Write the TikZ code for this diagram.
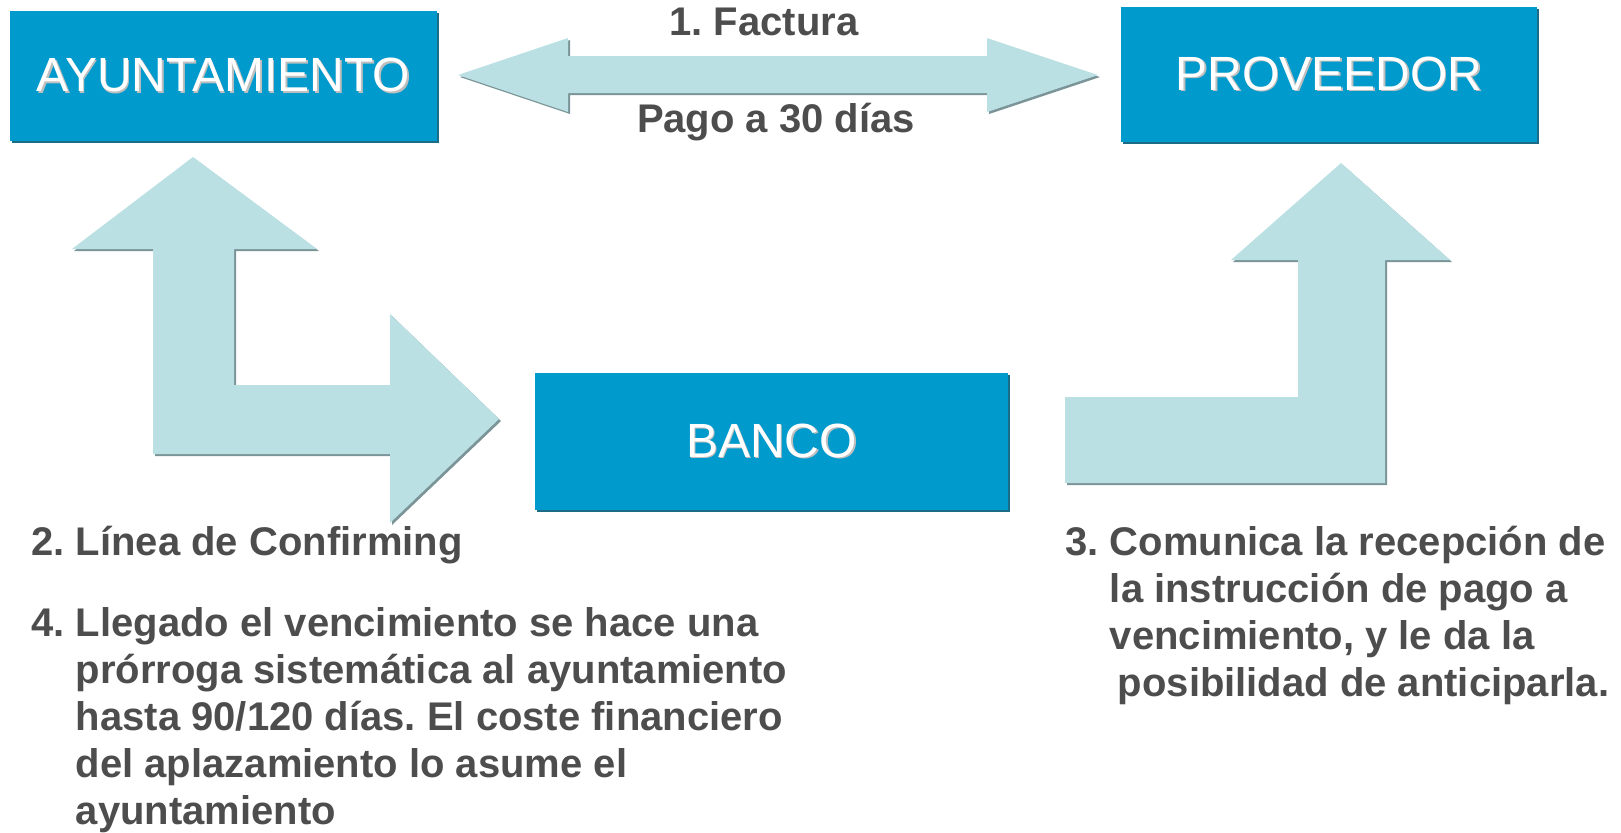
\documentclass[tikz,border=0pt]{standalone}
\usepackage{fontspec}
\setmainfont{Liberation Sans}
\usetikzlibrary{shadows}

\definecolor{boxblue}{RGB}{0,154,205}
\definecolor{boxshade}{RGB}{28,108,135}
\definecolor{arrowfill}{RGB}{187,224,227}
\definecolor{arrowshade}{RGB}{122,148,152}
\definecolor{notegray}{RGB}{77,77,77}
\newcommand\boxlabel[1]{\rlap{\hspace{0.8pt}\raisebox{-0.8pt}{\color{black!25}#1}}{\color{white}#1}}

\begin{document}
\begin{tikzpicture}[
  x=0.5pt, y=-0.5pt,
  party/.style={fill=boxblue, inner sep=0pt, font=\fontsize{24pt}{28pt}\selectfont,
    general shadow={fill=boxshade, shadow xshift=1pt, shadow yshift=-1pt}},
  blockarrow/.style={fill=arrowfill,
    general shadow={fill=arrowshade, shadow xshift=1pt, shadow yshift=-1pt}},
  note/.style={text=notegray, inner sep=0pt,
    font=\bfseries\fontsize{20pt}{23.5pt}\selectfont\frenchspacing}
]
\useasboundingbox (0,0) rectangle (1621,832);

% block arrows:
\path [blockarrow] (458,75) -- (568,38) -- (568,56) -- (987,56) -- (987,38) -- (1098,75)
  -- (987,112) -- (987,93) -- (568,93) -- (568,112) -- cycle;
\path [blockarrow] (193,157) -- (317,249) -- (234,249) -- (234,385) -- (390,385) -- (390,314)
  -- (499,419) -- (390,523) -- (390,454) -- (153,454) -- (153,249) -- (72,249) -- cycle;
\path [blockarrow] (1341,163) -- (1450,260) -- (1385,260) -- (1385,483) -- (1065,483)
  -- (1065,397) -- (1298,397) -- (1298,260) -- (1231,260) -- cycle;

% the three parties:
\node [party, minimum width=213.5pt, minimum height=65pt] (ayto) at (223.5,76) {\boxlabel{AYUNTAMIENTO}};
\node [party, minimum width=208pt, minimum height=67.5pt] (prov) at (1329,74.5) {\boxlabel{PROVEEDOR}};
\node [party, minimum width=236.5pt, minimum height=68.5pt] (banco) at (771.5,441.5) {\boxlabel{BANCO}};

% steps:
\node [note, anchor=base] (factura) at (764,35) {1. Factura};
\node [note, anchor=base] (pago) at (776,132) {Pago a 30 días};
\node [note, anchor=base west] (linea) at (31,555) {2. Línea de Confirming};
\node [note, anchor=base west] (prorroga) at (31,636) {\begin{tabular}[t]{@{}l@{\ }l@{}}
  4. & Llegado el vencimiento se hace una\\
     & prórroga sistemática al ayuntamiento\\
     & hasta 90/120 días. El coste financiero\\
     & del aplazamiento lo asume el\\
     & ayuntamiento\end{tabular}};
\node [note, anchor=base west] (comunica) at (1065,555) {\begin{tabular}[t]{@{}l@{\ }l@{}}
  3. & Comunica la recepción de\\
     & la instrucción de pago a\\
     & vencimiento, y le da la\\
     & \hspace{4pt}posibilidad de anticiparla.\end{tabular}};
\end{tikzpicture}
\end{document}
